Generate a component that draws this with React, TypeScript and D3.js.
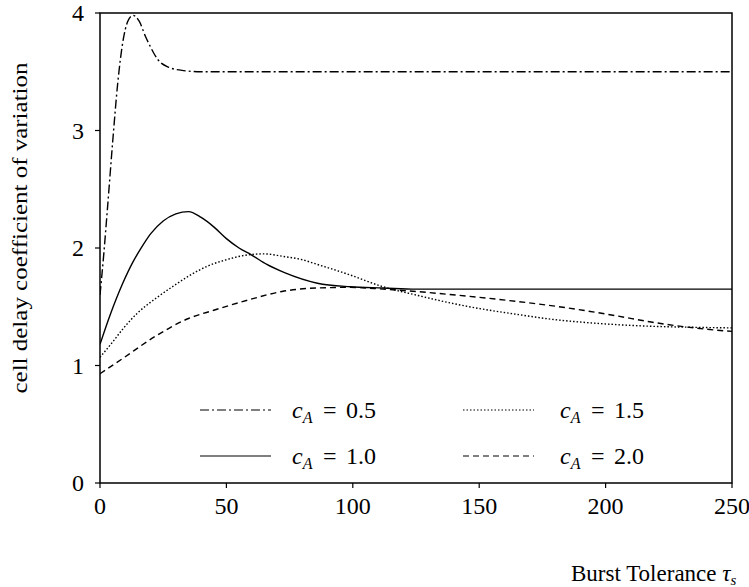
import React from "react";
import * as d3 from "d3";

const xTicks = [0, 50, 100, 150, 200, 250];
const yTicks = [0, 1, 2, 3, 4];

const tA05 = [0, 1.5, 3, 5, 7, 9, 11, 13, 15.5, 18, 20, 23, 27, 33, 40, 250];
const vA05 = [1.6, 1.95, 2.35, 2.9, 3.4, 3.75, 3.93, 3.98, 3.93, 3.8, 3.71, 3.6, 3.54, 3.51, 3.5, 3.5];

const tA10 = [0, 4, 9, 13, 16, 20, 25, 30, 35, 40, 45, 50, 55, 60, 66, 73, 86, 99, 112, 125, 250];
const vA10 = [1.18, 1.43, 1.7, 1.88, 1.99, 2.12, 2.23, 2.29, 2.31, 2.26, 2.18, 2.08, 2.0, 1.94, 1.86, 1.79, 1.7, 1.67, 1.66, 1.65, 1.65];

const tA15 = [0, 5, 9, 15, 22, 30, 35, 43, 50, 58, 65, 72, 80, 86, 92, 99, 112, 125, 138, 150, 165, 180, 191, 205, 218, 235, 250];
const vA15 = [1.07, 1.2, 1.31, 1.45, 1.57, 1.69, 1.76, 1.85, 1.9, 1.94, 1.95, 1.93, 1.9, 1.86, 1.82, 1.77, 1.67, 1.6, 1.535, 1.485, 1.435, 1.39, 1.368, 1.347, 1.334, 1.325, 1.32];

const tA20 = [0, 9, 22, 35, 45, 59, 72, 86, 99, 112, 125, 138, 150, 165, 180, 191, 205, 218, 235, 250];
const vA20 = [0.93, 1.06, 1.25, 1.4, 1.47, 1.56, 1.63, 1.66, 1.665, 1.65, 1.63, 1.605, 1.58, 1.545, 1.505, 1.47, 1.42, 1.37, 1.32, 1.29];

const legendValues = ["0.5", "1.0", "1.5", "2.0"];
const dashes = ["9,3,2,3", "", "1.5,2", "6,4"];

const W = 749;
const H = 587;
const FONT = "'Liberation Serif', 'DejaVu Serif', serif";

export default function App() {
  const x = d3.scaleLinear().domain([0, 250]).range([100, 732]);
  const y = d3.scaleLinear().domain([0, 4]).range([483, 13]);
  const line = d3
    .line<[number, number]>()
    .x((d) => x(d[0]))
    .y((d) => y(d[1]))
    .curve(d3.curveMonotoneX);

  const series = [
    tA05.map((t, i) => [t, vA05[i]] as [number, number]),
    tA10.map((t, i) => [t, vA10[i]] as [number, number]),
    tA15.map((t, i) => [t, vA15[i]] as [number, number]),
    tA20.map((t, i) => [t, vA20[i]] as [number, number]),
  ];

  const legendPos = [
    { lx: 200, tx: 292, ly: 410 },
    { lx: 200, tx: 292, ly: 456 },
    { lx: 463, tx: 560, ly: 410 },
    { lx: 463, tx: 560, ly: 456 },
  ];

  return (
    <svg width={W} height={H} style={{ position: "absolute", left: 0, top: 0, background: "#fff" }}>
      <rect x={0} y={0} width={W} height={H} fill="#fff" />
      <defs>
        <clipPath id="clip">
          <rect x={x(0)} y={y(4) - 2} width={x(250) - x(0)} height={y(0) - y(4) + 2} />
        </clipPath>
      </defs>
      <rect x={x(0)} y={y(4)} width={x(250) - x(0)} height={y(0) - y(4)} fill="none" stroke="#000" strokeWidth={1.5} />
      {xTicks.map((t) => (
        <g key={"xt" + t}>
          <line x1={x(t)} x2={x(t)} y1={y(0)} y2={y(0) + 5} stroke="#000" strokeWidth={1.2} />
          <text x={x(t)} y={y(0) + 31} textAnchor="middle" fontFamily={FONT} fontSize={24}>
            {t}
          </text>
        </g>
      ))}
      {yTicks.map((v) => (
        <g key={"yt" + v}>
          <line x1={x(0) - 5} x2={x(0)} y1={y(v)} y2={y(v)} stroke="#000" strokeWidth={1.2} />
          <text x={x(0) - 16} y={y(v) + 8} textAnchor="end" fontFamily={FONT} fontSize={24}>
            {v}
          </text>
        </g>
      ))}
      <g clipPath="url(#clip)">
        {series.map((s, i) => (
          <path
            key={"s" + i}
            d={line(s) || ""}
            fill="none"
            stroke="#000"
            strokeWidth={1.4}
            strokeDasharray={dashes[i] || undefined}
          />
        ))}
      </g>
      {legendValues.map((v, i) => {
        const p = legendPos[i];
        return (
          <g key={"lg" + i}>
            <line
              x1={p.lx}
              x2={p.lx + 71}
              y1={p.ly}
              y2={p.ly}
              stroke="#000"
              strokeWidth={1.2}
              strokeDasharray={dashes[i] || undefined}
            />
            <text y={p.ly + 8} fontFamily={FONT} fontSize={24}>
              <tspan x={p.tx} fontStyle="italic">c</tspan>
              <tspan fontStyle="italic" fontSize={16} dy={5}>A</tspan>
              <tspan x={p.tx + 31} dy={-5}>=</tspan>
              <tspan x={p.tx + 54}>{v}</tspan>
            </text>
          </g>
        );
      })}
      <text
        transform={`translate(27, 228) rotate(-90)`}
        textAnchor="middle"
        fontFamily={FONT}
        fontSize={22}
        textLength={331}
        lengthAdjust="spacingAndGlyphs"
      >
        cell delay coefficient of variation
      </text>
      <text x={571} y={581} fontFamily={FONT} fontSize={23}>
        Burst Tolerance <tspan fontStyle="italic">τ</tspan>
        <tspan fontStyle="italic" fontSize={15} dy={4}>s</tspan>
      </text>
    </svg>
  );
}
